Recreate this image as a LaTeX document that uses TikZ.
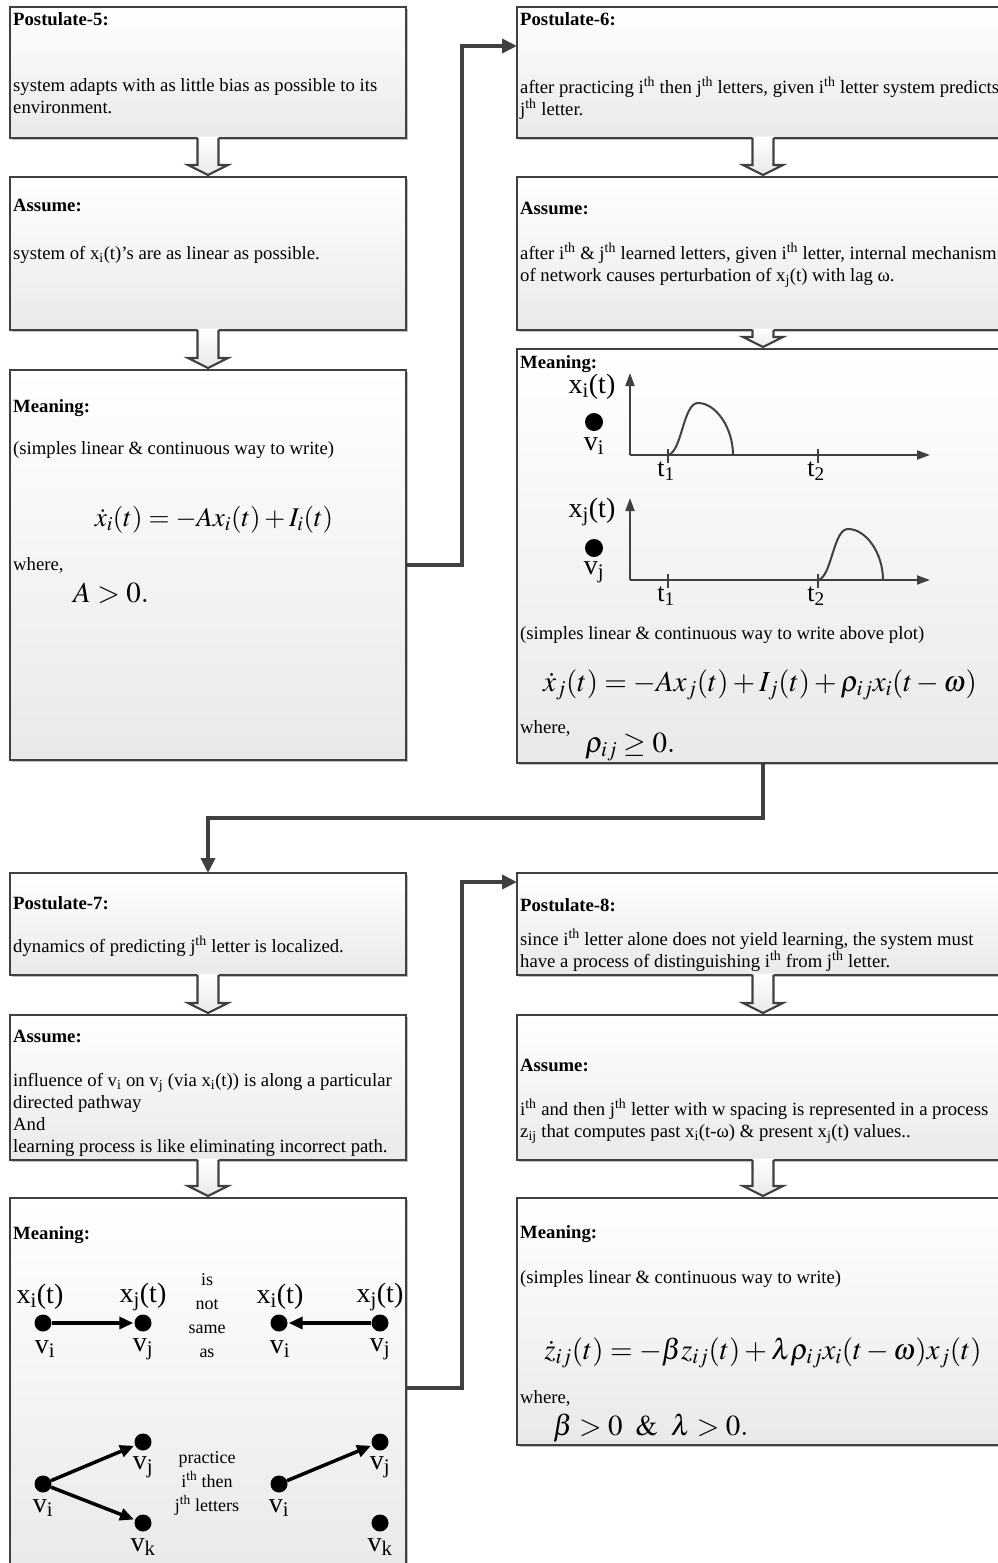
\documentclass[tikz,border=0pt]{standalone}
\usepackage{mathptmx}
\usepackage[no-math]{fontspec}
\setmainfont{Liberation Serif}
\usepackage{xcolor}
\usetikzlibrary{positioning,arrows.meta,calc,shadows}

\definecolor{edge}{HTML}{404040}
\definecolor{boxbot}{HTML}{E9E9E9}

% hollow block arrow from one box down to the next
\newcommand{\hollowdown}[2]{%
  \path[top color=white, bottom color=boxbot] let \p1=(#1.south), \p2=(#2.north) in
    (\x1-10.5pt,\y1+1.5pt) -- (\x1-10.5pt,\y2+12pt) -- (\x1-20pt,\y2+12pt) -- (\x1,\y2+2pt)
    -- (\x1+20pt,\y2+12pt) -- (\x1+10.5pt,\y2+12pt) -- (\x1+10.5pt,\y1+1.5pt) -- cycle;
  \draw[draw=edge, line width=2.2pt, line join=miter] let \p1=(#1.south), \p2=(#2.north) in
    (\x1-10.5pt,\y1) -- (\x1-10.5pt,\y2+12pt) -- (\x1-20pt,\y2+12pt) -- (\x1,\y2+2pt)
    -- (\x1+20pt,\y2+12pt) -- (\x1+10.5pt,\y2+12pt) -- (\x1+10.5pt,\y1);}

\begin{document}
\begin{tikzpicture}[x=1pt, y=-1pt,
    box/.style={draw=edge, line width=2.2pt, top color=white, bottom color=boxbot,
      outer sep=0pt, inner sep=0pt,
      drop shadow={shadow xshift=2pt, shadow yshift=-2pt, opacity=0.25, fill=black}},
    lbox/.style={box, minimum width=396pt},
    rbox/.style={box, minimum width=492pt},
    ttl/.style={font=\bfseries\fontsize{18.7}{22}\selectfont, inner sep=0pt, anchor=base west},
    txt/.style={font=\fontsize{18.7}{22}\selectfont, inner sep=0pt, align=left, anchor=north west},
    lab/.style={font=\fontsize{18.7}{22}\selectfont, inner sep=0pt, anchor=base west},
    mid/.style={font=\fontsize{18}{24}\selectfont, inner sep=0pt, align=center},
    eqn/.style={font=\fontsize{29}{31}\selectfont, inner sep=0pt},
    big/.style={font=\fontsize{28}{30}\selectfont, inner sep=0pt},
    dot/.style={circle, fill=black, inner sep=0pt, minimum size=17pt},
    conn/.style={draw=edge, line width=4.5pt, line join=miter, -{Triangle[length=15pt, width=14pt]}},
    axis/.style={draw=edge, line width=2pt, -{Triangle[length=13pt, width=9pt]}},
    tick/.style={draw=edge, line width=2pt},
    curve/.style={draw=edge, line width=2pt},
    garr/.style={line width=3.5pt, -{Triangle[length=14pt, width=12pt]}, shorten >=1pt}
  ]
  \useasboundingbox (0,0) rectangle (998,1563);

  % boxes, upper half
  \node[lbox, minimum height=131pt, anchor=north west] (p5) at (10,7) {};
  \node[lbox, minimum height=153pt, below=39pt of p5] (a5) {};
  \node[lbox, minimum height=390pt, below=40pt of a5] (m5) {};
  \node[rbox, minimum height=131pt, anchor=north west] (p6) at (517,7) {};
  \node[rbox, minimum height=153pt, below=39pt of p6] (a6) {};
  \node[rbox, minimum height=414pt, below=19pt of a6] (m6) {};

  % boxes, lower half
  \node[lbox, minimum height=102pt, anchor=north west] (p7) at (10,873) {};
  \node[lbox, minimum height=145pt, below=40pt of p7] (a7) {};
  \node[lbox, minimum height=380pt, below=38pt of a7] (m7) {};
  \node[rbox, minimum height=102pt, anchor=north west] (p8) at (517,873) {};
  \node[rbox, minimum height=145pt, below=40pt of p8] (a8) {};
  \node[rbox, minimum height=247pt, below=38pt of a8] (m8) {};

  \hollowdown{p5}{a5}
  \hollowdown{a5}{m5}
  \hollowdown{p6}{a6}
  \hollowdown{a6}{m6}
  \hollowdown{p7}{a7}
  \hollowdown{a7}{m7}
  \hollowdown{p8}{a8}
  \hollowdown{a8}{m8}

  % connectors
  \draw[conn] (m5.east) -- ++(56,0) |- ([yshift=-39pt]p6.north west);
  \draw[conn] (m6.south) -- ++(0,55) -| (p7.north);
  \draw[conn] (m7.east) -- ++(56,0) |- ([yshift=-9pt]p8.north west);

  % Postulate-5
  \node[ttl] (p5t) at (13,26) {Postulate-5:};
  \node[txt] (p5b) at (13,78) {system adapts with as little bias as possible to its\\environment.};
  \node[ttl] (a5t) at (13,211) {Assume:};
  \node[txt] (a5b) at (13,246) {system of x\textsubscript{i}(t)'s are as linear as possible.};
  \node[ttl] (m5t) at (13,412) {Meaning:};
  \node[txt] (m5b) at (13,441) {(simples linear \& continuous way to write)};
  \node[eqn, font=\fontsize{27}{30}\selectfont] (m5e) at (214,520) {$\dot{x}_i(t)=-Ax_i(t)+I_i(t)$};
  \node[lab] (m5w) at (13,570) {where,};
  \node[eqn, anchor=west] (m5c) at (73,593) {$A>0.$};

  % Postulate-6
  \node[ttl] (p6t) at (520,26) {Postulate-6:};
  \node[txt] (p6b) at (520,77) {after practicing i\textsuperscript{th} then j\textsuperscript{th} letters, given i\textsuperscript{th} letter system predicts\\j\textsuperscript{th} letter.};
  \node[ttl] (a6t) at (520,214) {Assume:};
  \node[txt] (a6b) at (520,243) {after i\textsuperscript{th} \& j\textsuperscript{th} learned letters, given i\textsuperscript{th} letter, internal mechanism\\of network causes perturbation of x\textsubscript{j}(t) with lag ω.};
  \node[ttl] (m6t) at (520,368) {Meaning:};
  % plot of x_i
  \coordinate (o1) at (630,455);
  \draw[axis] (o1) -- (930,455);
  \draw[axis] (o1) -- (630,373);
  \draw[tick] (668,449) -- (668,463);
  \draw[tick] (818,449) -- (818,463);
  \draw[curve] (668,455) .. controls (682,452) and (683,403) .. (698,403)
    .. controls (716,403) and (733,428) .. (733,455);
  \node[big] (xi) at (592,387) {x\textsubscript{i}(t)};
  \node[dot, minimum size=18pt] (vi) at (594,422) {};
  \node[big] (vil) at (594,446) {v\textsubscript{i}};
  \node[big, font=\fontsize{26}{28}\selectfont] (t1a) at (666,471) {t\textsubscript{1}};
  \node[big, font=\fontsize{26}{28}\selectfont] (t2a) at (816,471) {t\textsubscript{2}};
  % plot of x_j
  \coordinate (o2) at (630,580);
  \draw[axis] (o2) -- (930,580);
  \draw[axis] (o2) -- (630,498);
  \draw[tick] (668,574) -- (668,588);
  \draw[tick] (818,574) -- (818,588);
  \draw[curve] (818,580) .. controls (832,577) and (833,529) .. (848,529)
    .. controls (866,529) and (883,553) .. (883,580);
  \node[big] (xj) at (592,512) {x\textsubscript{j}(t)};
  \node[dot, minimum size=18pt] (vj) at (594,548) {};
  \node[big] (vjl) at (594,572) {v\textsubscript{j}};
  \node[big, font=\fontsize{26}{28}\selectfont] (t1b) at (666,596) {t\textsubscript{1}};
  \node[big, font=\fontsize{26}{28}\selectfont] (t2b) at (816,596) {t\textsubscript{2}};
  \node[txt] (m6b) at (520,626) {(simples linear \& continuous way to write above plot)};
  \node[eqn] (m6e) at (760,685) {$\dot{x}_j(t)=-Ax_j(t)+I_j(t)+\rho_{ij}x_i(t-\omega)$};
  \node[lab] (m6w) at (520,733) {where,};
  \node[eqn, anchor=west] (m6c) at (585,747) {$\rho_{ij}\geq 0.$};

  % Postulate-7
  \node[ttl] (p7t) at (13,909) {Postulate-7:};
  \node[txt] (p7b) at (13,936) {dynamics of predicting j\textsuperscript{th} letter is localized.};
  \node[ttl] (a7t) at (13,1042) {Assume:};
  \node[txt] (a7b) at (13,1073) {influence of v\textsubscript{i} on v\textsubscript{j} (via x\textsubscript{i}(t)) is along a particular\\directed pathway\\And\\learning process is like eliminating incorrect path.};
  \node[ttl] (m7t) at (13,1239) {Meaning:};
  % graphs
  \node[dot] (gi1) at (43,1323) {};
  \node[dot] (gj1) at (143,1323) {};
  \draw[garr] (gi1) -- (gj1);
  \node[big] (gxi1) at (40,1297) {x\textsubscript{i}(t)};
  \node[big] (gxj1) at (143,1297) {x\textsubscript{j}(t)};
  \node[big] (gvi1) at (45,1349) {v\textsubscript{i}};
  \node[big] (gvj1) at (143,1349) {v\textsubscript{j}};
  \node[mid] (isnot) at (207,1316) {is\\not\\same\\as};
  \node[dot] (gi2) at (279,1323) {};
  \node[dot] (gj2) at (380,1323) {};
  \draw[garr] (gj2) -- (gi2);
  \node[big] (gxi2) at (280,1297) {x\textsubscript{i}(t)};
  \node[big] (gxj2) at (380,1297) {x\textsubscript{j}(t)};
  \node[big] (gvi2) at (280,1349) {v\textsubscript{i}};
  \node[big] (gvj2) at (380,1349) {v\textsubscript{j}};
  \node[dot] (gi3) at (43,1484) {};
  \node[dot] (gj3) at (143,1442) {};
  \node[dot] (gk3) at (143,1523) {};
  \draw[garr] (gi3) -- (gj3);
  \draw[garr] (gi3) -- (gk3);
  \node[big] (gvj3) at (143,1467) {v\textsubscript{j}};
  \node[big] (gvi3) at (43,1508) {v\textsubscript{i}};
  \node[big] (gvk3) at (143,1547) {v\textsubscript{k}};
  \node[mid] (practice) at (207,1483) {practice\\i\textsuperscript{th} then\\j\textsuperscript{th} letters};
  \node[dot] (gi4) at (279,1484) {};
  \node[dot] (gj4) at (380,1442) {};
  \node[dot] (gk4) at (380,1523) {};
  \draw[garr] (gi4) -- (gj4);
  \node[big] (gvi4) at (279,1508) {v\textsubscript{i}};
  \node[big] (gvj4) at (380,1467) {v\textsubscript{j}};
  \node[big] (gvk4) at (380,1547) {v\textsubscript{k}};

  % Postulate-8
  \node[ttl] (p8t) at (520,911) {Postulate-8:};
  \node[txt] (p8b) at (520,929) {since i\textsuperscript{th} letter alone does not yield learning, the system must\\have a process of distinguishing i\textsuperscript{th} from j\textsuperscript{th} letter.};
  \node[ttl] (a8t) at (520,1071) {Assume:};
  \node[txt] (a8b) at (520,1099) {i\textsuperscript{th} and then j\textsuperscript{th} letter with w spacing is represented in a process\\z\textsubscript{ij} that computes past x\textsubscript{i}(t-ω) \& present x\textsubscript{j}(t) values..};
  \node[ttl] (m8t) at (520,1238) {Meaning:};
  \node[txt] (m8b) at (520,1270) {(simples linear \& continuous way to write)};
  \node[eqn] (m8e) at (763,1353) {$\dot{z}_{ij}(t)=-\beta z_{ij}(t)+\lambda\rho_{ij}x_i(t-\omega)x_j(t)$};
  \node[lab] (m8w) at (520,1403) {where,};
  \node[eqn, anchor=west] (m8c) at (553,1428) {$\beta>0\;\;\&\;\;\lambda>0.$};
\end{tikzpicture}
\end{document}
